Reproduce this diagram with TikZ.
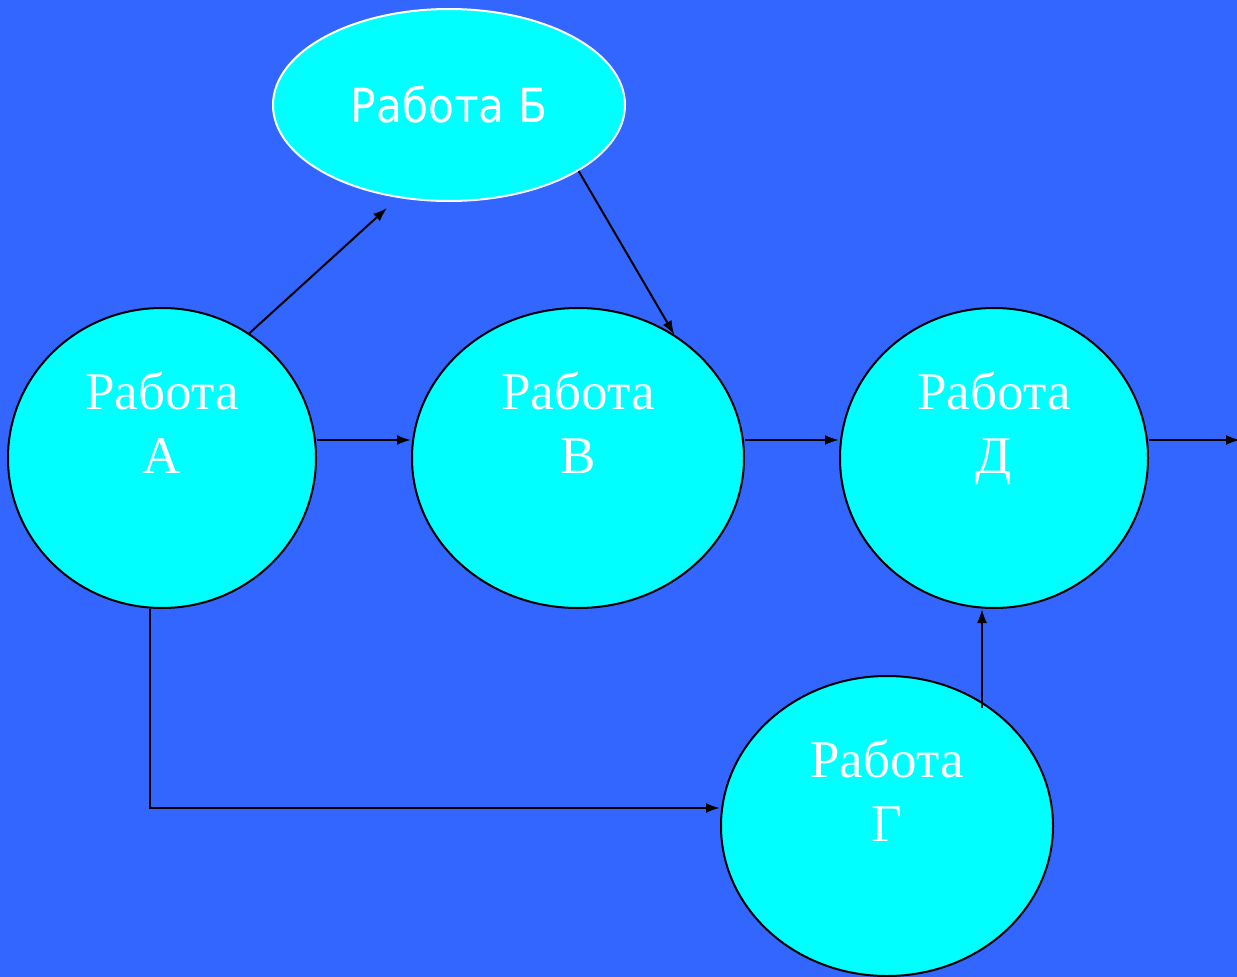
\documentclass[tikz,border=0pt]{standalone}
\usepackage{fontspec}
\setmainfont{Liberation Serif}
\newfontfamily\labelsans[FakeStretch=0.9]{DejaVu Sans}
\usetikzlibrary{shapes.geometric,arrows.meta,calc}
\definecolor{bgblue}{HTML}{3366FF}
\definecolor{jobcyan}{HTML}{00FFFF}
% two centred lines; the box baseline is that of the second line
\newcommand\joblabel[1]{\vbox{\baselineskip=64pt \lineskiplimit=0pt
  \halign{\hfil##\hfil\cr Работа\cr #1\cr}}}
\begin{document}
\begin{tikzpicture}[x=1pt,y=-1pt,
  job/.style={ellipse, draw=black, line width=2pt, fill=jobcyan, inner sep=0pt,
    text=white, font=\fontsize{53}{64}\selectfont, text height=100pt, text depth=70pt},
  topjob/.style={ellipse, draw=white, line width=2pt, fill=jobcyan, inner sep=0pt,
    text=white, font=\labelsans\fontsize{47}{56}\selectfont, text height=34pt, text depth=0pt},
  flow/.style={-{Latex[length=14pt,width=10pt]}, line width=2pt, draw=black}]
  \fill[bgblue] (0,0) rectangle (1237,977);
  \useasboundingbox (0,0) rectangle (1237,977);

  % jobs
  \node[topjob, minimum width=352pt, minimum height=192pt] (b) at (449,105) {Работа Б};
  \node[job, minimum width=308pt, minimum height=300pt] (a) at (162,458) {\joblabel{А}};
  \node[job, minimum width=332pt, minimum height=300pt] (v) at (578,458) {\joblabel{В}};
  \node[job, minimum width=308pt, minimum height=300pt] (d) at (994,458) {\joblabel{Д}};
  \node[job, minimum width=332pt, minimum height=300pt] (g) at (887,826) {\joblabel{Г}};

  % dependencies
  \coordinate (bIn) at ($(b.center)+(-62,103)$);
  \draw[flow] (a.55) -- (bIn);
  \draw[flow] (b.-27) -- (v.52);
  \draw[flow] ([yshift=18pt]a.east) -- ([yshift=18pt]v.west);
  \draw[flow] ([yshift=18pt]v.east) -- ([yshift=18pt]d.west);
  \coordinate (exit) at (1240,440);
  \draw[flow] ([yshift=18pt]d.east) -- (exit);
  \draw[flow] ([xshift=-12pt]a.south) |- ([yshift=18pt]g.west);
  \coordinate (gOut) at ($(g.center)+(95,-118)$);
  \draw[flow] (gOut) -- (gOut |- d.south);
\end{tikzpicture}
\end{document}
